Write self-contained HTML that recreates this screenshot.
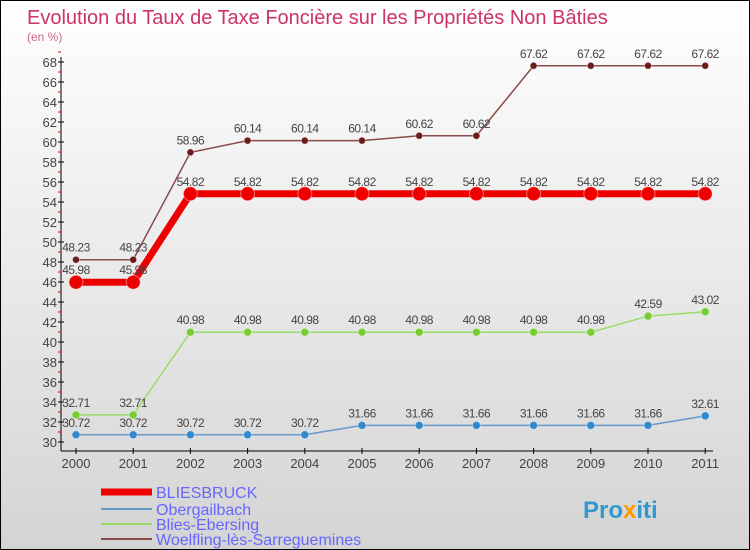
<!DOCTYPE html>
<html><head><meta charset="utf-8"><style>
body{margin:0}
#c{width:750px;height:550px;position:relative;box-sizing:border-box;border:1px solid #000;background:linear-gradient(#fff,#d4d4d4);font-family:"Liberation Sans",sans-serif;overflow:hidden}
</style></head><body>
<div id="c">
<svg id="s" width="750" height="550" xmlns="http://www.w3.org/2000/svg">
<text x="26" y="23" font-size="20" fill="#cc3366">Evolution du Taux de Taxe Foncière sur les Propriétés Non Bâties</text>
<text x="26" y="40" font-size="12" fill="#cc6688">(en %)</text>
<g id="axes"></g><g id="series"></g><g id="legend"></g>
<text x="582" y="517" font-size="24" font-weight="bold" fill="#3399cc">Pro<tspan fill="#ff9900">x</tspan>iti</text>
</svg></div>
<script>
const years=[2000,2001,2002,2003,2004,2005,2006,2007,2008,2009,2010,2011];
const bliesbruck=[45.98,45.98,54.82,54.82,54.82,54.82,54.82,54.82,54.82,54.82,54.82,54.82];
const obergailbach=[30.72,30.72,30.72,30.72,30.72,31.66,31.66,31.66,31.66,31.66,31.66,32.61];
const bliesEbersing=[32.71,32.71,40.98,40.98,40.98,40.98,40.98,40.98,40.98,40.98,42.59,43.02];
const woelfling=[48.23,48.23,58.96,60.14,60.14,60.14,60.62,60.62,67.62,67.62,67.62,67.62];
const yTicks=[30,32,34,36,38,40,42,44,46,48,50,52,54,56,58,60,62,64,66,68];
const NS="http://www.w3.org/2000/svg";
const X=i=>75+i*57.2, Y=v=>441-(v-30)*10;
function mk(t,a,p){const e=document.createElementNS(NS,t);for(const k in a)e.setAttribute(k,a[k]);p.appendChild(e);return e;}
const ax=document.getElementById('axes');
let l=mk('line',{x1:60,y1:56,x2:60,y2:450,stroke:'#000'},ax);

l=mk('line',{x1:60,y1:450,x2:712,y2:450,stroke:'#000'},ax);

yTicks.forEach(v=>{mk('line',{x1:57,y1:Y(v),x2:63,y2:Y(v),stroke:'#000'},ax);
mk('line',{x1:57,y1:Y(v+1),x2:60,y2:Y(v+1),stroke:'#e00'},ax);
const t=mk('text',{x:56,y:Y(v)+5,'text-anchor':'end','font-size':13,fill:'#444'},ax);t.textContent=v;
});
years.forEach((y,i)=>{mk('line',{x1:X(i),y1:447,x2:X(i),y2:453,stroke:'#000'},ax);
const t=mk('text',{x:X(i),y:467,'text-anchor':'middle','font-size':13,fill:'#444'},ax);t.textContent=y;
});
const sg=document.getElementById('series');
const series=[[woelfling,'#8b4a4a','#6b1a1a',1.5,3.5,'woelfling'],[bliesEbersing,'#99dd66','#77cc33',1.5,4,'blies-ebersing'],[obergailbach,'#6699cc','#3388cc',1.5,4,'obergailbach'],[bliesbruck,'#ee0000','#ee0000',7,7,'bliesbruck']];
series.forEach(([d,c,dc,w,r,n])=>{
const p=mk('polyline',{points:d.map((v,i)=>X(i)+','+Y(v)).join(' '),fill:'none',stroke:c,'stroke-width':w},sg);

d.forEach((v,i)=>{const cc=mk('circle',{cx:X(i),cy:Y(v),r:r,fill:dc,stroke:'#fff','stroke-opacity':0.4},sg);

const t=mk('text',{x:X(i),y:Y(v)-8,'text-anchor':'middle','font-size':12,fill:'#444','letter-spacing':'-0.5'},sg);t.textContent=v;
});});
const lg=document.getElementById('legend');
[['BLIESBRUCK','#ee0000',7,491],['Obergailbach','#6699cc',2,508],['Blies-Ebersing','#99dd66',2,523],['Woelfling-lès-Sarreguemines','#8b4a4a',2,538]].forEach(([n,c,w,y])=>{
const g=mk('g',{},lg);
mk('line',{x1:100,y1:y,x2:151,y2:y,stroke:c,'stroke-width':w},g);
const t=mk('text',{x:155,y:y+6,'font-size':16,fill:'#6666ff'},g);t.textContent=n;});
</script></body></html>
